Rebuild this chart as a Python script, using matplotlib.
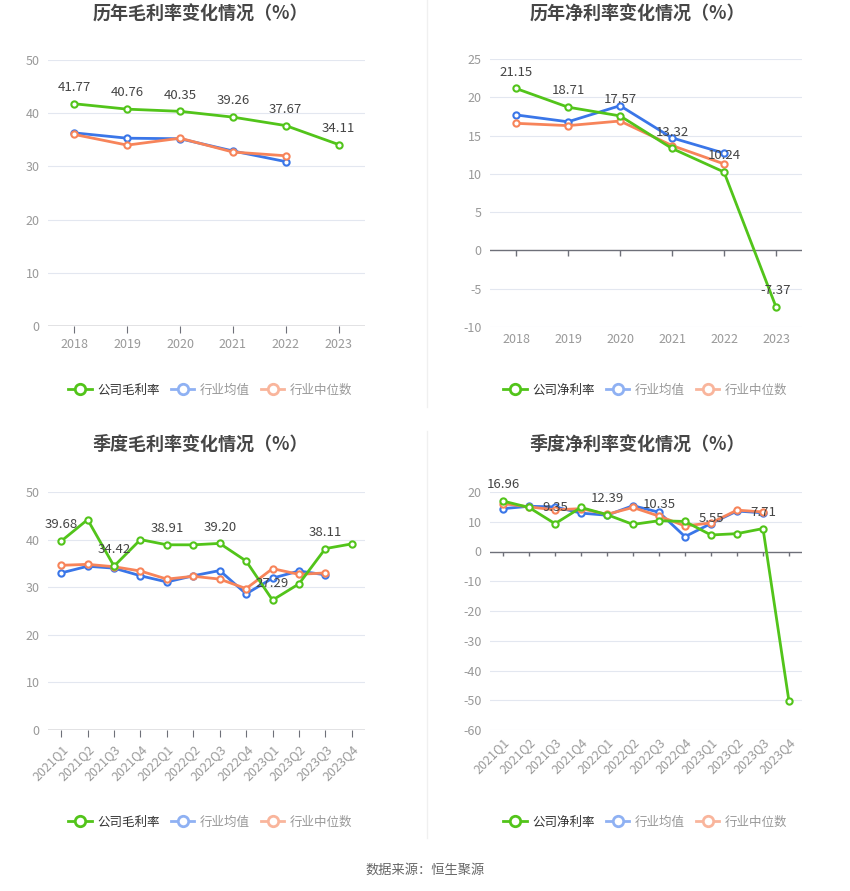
import matplotlib
matplotlib.use("Agg")
import matplotlib.pyplot as plt
from matplotlib.lines import Line2D

plt.rcParams['font.family'] = ['Noto Sans CJK SC', 'DejaVu Sans']

# annual data
years = ["2018", "2019", "2020", "2021", "2022", "2023"]
gross_company = [41.77, 40.76, 40.35, 39.26, 37.67, 34.11]
gross_mean = [36.3, 35.3, 35.2, 32.9, 30.9]
gross_median = [36.0, 34.0, 35.3, 32.7, 32.0]

net_company = [21.15, 18.71, 17.57, 13.32, 10.24, -7.37]
net_mean = [17.7, 16.8, 18.9, 14.7, 12.7]
net_median = [16.6, 16.3, 16.9, 13.7, 11.3]

# quarterly data
quarters = ["2021Q1", "2021Q2", "2021Q3", "2021Q4", "2022Q1", "2022Q2",
            "2022Q3", "2022Q4", "2023Q1", "2023Q2", "2023Q3", "2023Q4"]
q_gross_company = [39.68, 44.2, 34.42, 40.0, 38.91, 38.9, 39.20, 35.5, 27.29, 30.7, 38.11, 39.1]
q_gross_mean = [33.0, 34.4, 34.0, 32.4, 31.1, 32.4, 33.5, 28.6, 31.9, 33.4, 32.6]
q_gross_median = [34.6, 34.8, 34.3, 33.4, 31.7, 32.3, 31.7, 29.7, 33.9, 32.7, 33.0]

q_net_company = [16.96, 14.8, 9.35, 14.8, 12.39, 9.1, 10.35, 10.1, 5.55, 6.0, 7.71, -50.4]
q_net_mean = [14.4, 15.2, 15.0, 12.9, 12.2, 15.4, 13.2, 5.0, 9.4, 13.6, 13.0]
q_net_median = [16.1, 15.0, 14.0, 14.4, 12.5, 14.8, 11.9, 8.6, 9.6, 13.9, 13.3]

GREEN = "#52c41a"
BLUE = "#3a76e8"
ORANGE = "#f7845a"
GRID = "#e3e7f0"
TICK = "#999999"
AXIS = "#6e7079"

W, H = 850, 891


def px_axes(fig, left, top, right, bottom):
    return fig.add_axes([left / W, (H - bottom) / H, (right - left) / W, (bottom - top) / H])


def draw_chart(fig, box, title, title_x, title_y, cats, company, mean, median,
               ylim, yticks, label_idx, legend_name, legend_x, legend_y, rotate=False):
    ax = px_axes(fig, *box)
    x = list(range(len(cats)))
    for v in yticks:
        if v != 0:
            ax.axhline(v, color=GRID, lw=0.8, zorder=0)
    ax.axhline(0, color=AXIS, lw=1, zorder=1)

    mk = dict(marker="o", markersize=4.5, markerfacecolor="white", markeredgewidth=1.5)
    ax.plot(x[:len(mean)], mean, color=BLUE, lw=2, zorder=3, **mk)
    ax.plot(x[:len(median)], median, color=ORANGE, lw=2, zorder=4, **mk)
    ax.plot(x, company, color=GREEN, lw=2, zorder=5, **mk)

    for i in label_idx:
        ax.annotate(f"{company[i]:.2f}", (x[i], company[i]), xytext=(0, 7),
                    textcoords="offset points", ha="center", va="bottom",
                    fontsize=9.5, color="#444444", zorder=6)

    ax.set_xlim(-0.5, len(cats) - 0.5)
    ax.set_ylim(*ylim)
    ax.set_yticks(yticks)
    ax.set_yticklabels([str(v) for v in yticks])
    ax.set_xticks(x)
    if rotate:
        ax.set_xticklabels(cats, rotation=45, ha="right", rotation_mode="anchor")
    else:
        ax.set_xticklabels(cats)
    ax.tick_params(axis="y", length=0, colors=TICK, labelsize=9, pad=6)
    ax.tick_params(axis="x", length=5, color=AXIS, colors=TICK, labelsize=9, pad=4)
    ax.spines["bottom"].set_visible(False)
    for s in ["top", "right", "left"]:
        ax.spines[s].set_visible(False)
    # ticks hang from the zero line when the axis goes negative
    if ylim[0] < 0:
        ax.tick_params(axis="x", length=0)
        ax.vlines(x, 0, -(ylim[1] - ylim[0]) * 0.02, color=AXIS, lw=1, zorder=1)
    ax.set_facecolor("none")

    fig.text(title_x / W, 1 - title_y / H, title, ha="center", va="center",
             fontsize=13, fontweight="bold", color="#464646")

    handles = [
        Line2D([], [], color=GREEN, lw=2, marker="o", markersize=7.5,
               markerfacecolor="white", markeredgewidth=2),
        Line2D([], [], color="#8fb1f3", lw=2, marker="o", markersize=7.5,
               markerfacecolor="white", markeredgewidth=2),
        Line2D([], [], color="#f9b59c", lw=2, marker="o", markersize=7.5,
               markerfacecolor="white", markeredgewidth=2),
    ]
    leg = fig.legend(handles, [legend_name, "行业均值", "行业中位数"],
                     loc="center", bbox_to_anchor=(legend_x / W, 1 - legend_y / H),
                     ncol=3, frameon=False, fontsize=9, handlelength=1.9,
                     handletextpad=0.4, columnspacing=0.9)
    texts = leg.get_texts()
    texts[0].set_color("#333333")
    texts[1].set_color(TICK)
    texts[2].set_color(TICK)
    return ax


fig = plt.figure(figsize=(W / 100, H / 100), dpi=100)
fig.patch.set_facecolor("white")

draw_chart(fig, (48, 60, 365, 326), "历年毛利率变化情况（%）", 200, 14,
           years, gross_company, gross_mean, gross_median,
           (0, 50), [0, 10, 20, 30, 40, 50], range(6), "公司毛利率", 210, 390)

draw_chart(fig, (490, 59, 802, 327), "历年净利率变化情况（%）", 637, 14,
           years, net_company, net_mean, net_median,
           (-10, 25), [-10, -5, 0, 5, 10, 15, 20, 25], range(6), "公司净利率", 645, 390)

draw_chart(fig, (48, 492, 365, 730), "季度毛利率变化情况（%）", 200, 444,
           quarters, q_gross_company, q_gross_mean, q_gross_median,
           (0, 50), [0, 10, 20, 30, 40, 50], range(0, 12, 2), "公司毛利率", 210, 822,
           rotate=True)

draw_chart(fig, (490, 492, 802, 730), "季度净利率变化情况（%）", 637, 444,
           quarters, q_net_company, q_net_mean, q_net_median,
           (-60, 20), [-60, -50, -40, -30, -20, -10, 0, 10, 20], range(0, 12, 2),
           "公司净利率", 645, 822, rotate=True)

# divider
fig.add_artist(Line2D([427 / W, 427 / W], [1 - 0 / H, 1 - 407 / H], color="#f0f0f0", lw=1))
fig.add_artist(Line2D([427 / W, 427 / W], [1 - 431 / H, 1 - 838 / H], color="#f0f0f0", lw=1))

fig.text(0.5, 1 - 870 / H, "数据来源：恒生聚源", ha="center", va="center",
         fontsize=9.5, color="#666666")

fig.savefig("out.png", dpi=100)
